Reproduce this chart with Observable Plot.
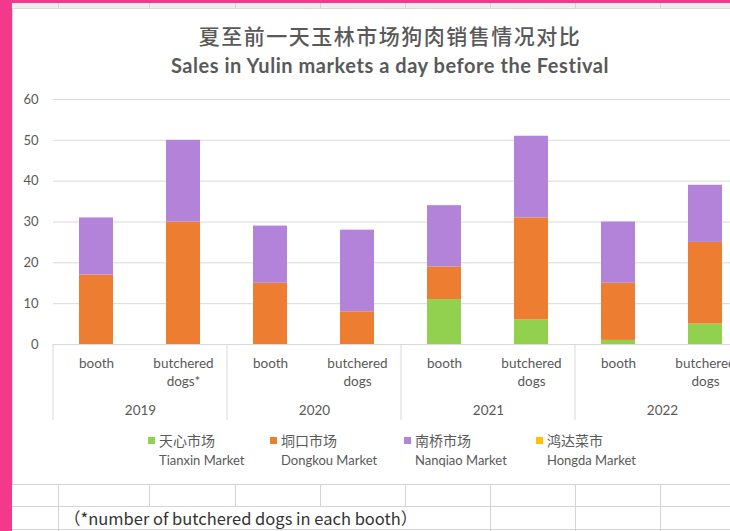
<!DOCTYPE html>
<html><head><meta charset="utf-8">
<script src="https://cdn.jsdelivr.net/npm/d3@7"></script>
<script src="https://cdn.jsdelivr.net/npm/@observablehq/plot@0.6"></script>
<style>
html,body{margin:0;padding:0;overflow:hidden;background:#fff;}
#page{position:relative;width:730px;height:531px;overflow:hidden;background:#fff;font-family:Lato,"Noto Sans CJK SC",sans-serif;color:#595959;}
.abs{position:absolute;}
#pinkL{left:0;top:0;width:12px;height:531px;background:#F2398B;}
#pinkT{left:0;top:0;width:730px;height:3px;background:#F2398B;}
#hdr{left:12px;top:3px;width:718px;height:5px;background:#EDEDED;}
#chartArea{left:12px;top:8px;width:760px;height:475px;background:#fff;border:1px solid #D9D9D9;}
.gl{position:absolute;background:#D4D4D4;}
#title{left:0;width:780px;top:20px;text-align:center;font-family:"Noto Sans CJK SC";font-weight:500;font-size:21px;letter-spacing:1.5px;color:#595959;line-height:30px;}
#subtitle{left:0;width:780px;top:51px;text-align:center;font-family:Lato;font-weight:bold;font-size:20px;letter-spacing:0.55px;color:#595959;line-height:28px;}
.lg{position:absolute;font-size:13px;color:#595959;line-height:20px;white-space:nowrap;}
.lg .zh{font-family:"Noto Sans CJK SC";font-size:14px;}
.sw{position:absolute;width:7px;height:7px;}
#foot{left:64px;top:506px;font-family:"Noto Sans CJK SC";font-size:16.5px;color:#333;line-height:24px;white-space:nowrap;}
#plot{left:0;top:80px;width:760px;}
#plot svg{max-width:none !important;}
</style></head><body><div id="page">
<div id="pinkT" class="abs"></div>
<div id="hdr" class="abs"></div>
<div id="chartArea" class="abs"></div>
<div id="grid"></div>
<div id="pinkL" class="abs"></div>
<div id="title" class="abs">夏至前一天玉林市场狗肉销售情况对比</div>
<div id="subtitle" class="abs">Sales in Yulin markets a day before the Festival</div>
<div id="plot" class="abs"></div>
<div id="legend"></div>
<div id="foot" class="abs">（*number of butchered dogs in each booth）</div>
</div>
<script>
const years = ["2019", "2020", "2021", "2022"];
const categories = ["booth", "butchered dogs"];
const categoryLabels = ["booth", "butchered\ndogs*", "booth", "butchered\ndogs", "booth", "butchered\ndogs", "booth", "butchered\ndogs"];
const markets = ["天心市场", "垌口市场", "南桥市场", "鸿达菜市"];
const marketsEn = ["Tianxin Market", "Dongkou Market", "Nanqiao Market", "Hongda Market"];
const colors = ["#92D050", "#ED7D31", "#B383D9", "#FFC000"];
const tianxin = [0, 0, 0, 0, 11, 6, 1, 5];
const dongkou = [17, 30, 15, 8, 8, 25, 14, 20];
const nanqiao = [14, 20, 14, 20, 15, 20, 15, 14];
const hongda = [0, 0, 0, 0, 0, 0, 0, 0];
const yTicks = [0, 10, 20, 30, 40, 50, 60];

const series = [tianxin, dongkou, nanqiao, hongda];
const rows = [];
const labelRows = [];
for (let i = 0; i < 8; i++) {
  const year = years[Math.floor(i / 2)], category = categories[i % 2];
  labelRows.push({year, category, label: categoryLabels[i]});
  series.forEach((s, k) => rows.push({year, category, market: markets[k], value: s[i]}));
}

const plot = Plot.plot({
  width: 760, height: 350,
  marginLeft: 53, marginRight: 11, marginTop: 19, marginBottom: 86,
  style: {fontFamily: "Lato, sans-serif", fontSize: "13.5px", color: "#595959", background: "transparent", overflow: "visible", maxWidth: "none"},
  fx: {domain: years, paddingInner: 0, paddingOuter: 0, axis: "bottom", label: null, tickSize: 0, tickPadding: 61},
  x: {domain: categories, paddingInner: 0.609, paddingOuter: 0.3045, axis: null},
  y: {domain: [0, 60], axis: null},
  color: {domain: markets, range: colors},
  marks: [
    Plot.gridY(yTicks, {stroke: "#D9D9D9", strokeOpacity: 1}),
    Plot.axisY(yTicks, {tickSize: 0, tickPadding: 15, label: null, fill: "#595959", fontSize: 13}),
    Plot.barY(rows, Plot.stackY({fx: "year", x: "category", y: "value", fill: "market", order: markets})),
    Plot.text(labelRows, {fx: "year", x: "category", text: "label", frameAnchor: "bottom", lineAnchor: "top", dy: 11, lineHeight: 1.32, fill: "#595959"})
  ]
});
document.getElementById("plot").appendChild(plot);

// facet separators below the axis, from the library's fx and y scales
const fx = plot.scale("fx"), ys = plot.scale("y");
const y0 = ys.apply(0);
const edges = years.map(y => fx.apply(y)).concat([fx.apply(years[years.length - 1]) + fx.bandwidth]);
const svg = d3.select(plot.tagName.toLowerCase() === "svg" ? plot : plot.querySelector("svg"));
svg.append("g").selectAll("line").data(edges).join("line")
  .attr("x1", d => d).attr("x2", d => d)
  .attr("y1", y0).attr("y2", y0 + 76)
  .attr("stroke", "#D9D9D9");

// legend
const legendX = [148, 270, 404, 536];
const lg = document.getElementById("legend");
markets.forEach((m, i) => {
  const sw = document.createElement("div");
  sw.className = "sw"; sw.style.left = legendX[i] + "px"; sw.style.top = "437px"; sw.style.background = colors[i];
  lg.appendChild(sw);
  const t = document.createElement("div");
  t.className = "lg"; t.style.left = (legendX[i] + 11) + "px"; t.style.top = "430px";
  t.innerHTML = `<div class="zh">${m}</div><div>${marketsEn[i]}</div>`;
  lg.appendChild(t);
});

// spreadsheet gridlines around the chart
const grid = document.getElementById("grid");
function line(l, t, w, h) { const d = document.createElement("div"); d.className = "gl"; Object.assign(d.style, {left: l + "px", top: t + "px", width: w + "px", height: h + "px"}); grid.appendChild(d); }
const cols = [58, 149, 235, 320, 405, 490, 575, 660];
cols.forEach(c => line(c, 3, 1, 5));
line(12, 484, 718, 1); line(12, 506, 718, 1); line(12, 529, 718, 1);
cols.forEach(c => line(c, 484, 1, 22));
[58, 490, 575, 660].forEach(c => line(c, 506, 1, 25));
</script>
</body></html>
